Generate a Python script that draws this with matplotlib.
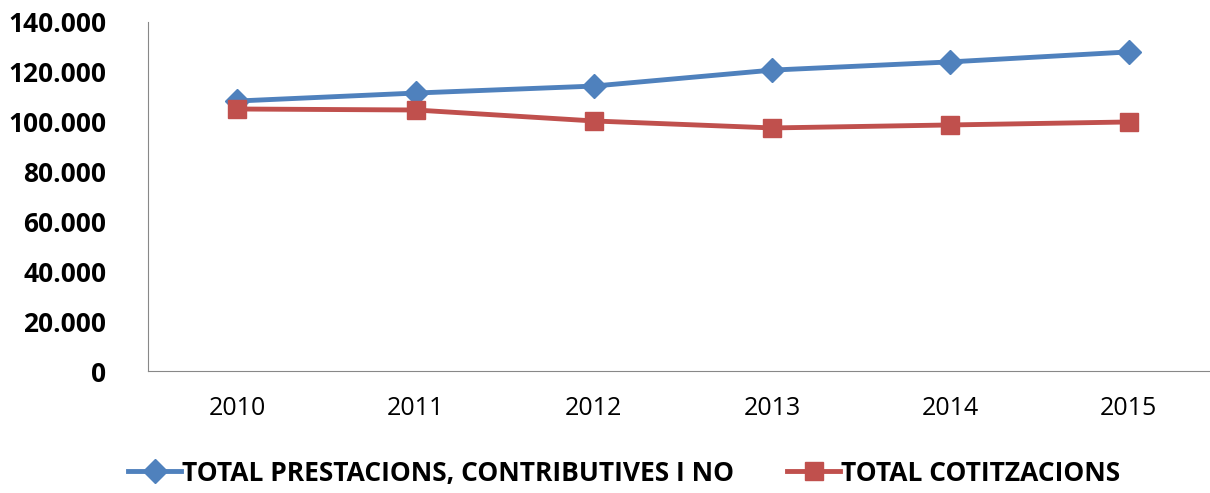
import matplotlib.pyplot as plt
from matplotlib.ticker import FuncFormatter

plt.rcParams['font.family'] = ['Open Sans', 'DejaVu Sans']

anys = ['2010', '2011', '2012', '2013', '2014', '2015']
prestacions = [108300, 111500, 114300, 120700, 124000, 128000]
cotitzacions = [105100, 104700, 100300, 97500, 98700, 99900]

fig = plt.figure(figsize=(12.1, 4.93), dpi=100)
ax = fig.add_axes([148 / 1210, 1 - 371 / 493, (1218 - 148) / 1210, (371 - 22) / 493])

x = range(len(anys))
ax.plot(x, prestacions, color='#4F81BD', lw=3.5, marker='D', ms=12,
        label='TOTAL PRESTACIONS, CONTRIBUTIVES I NO', clip_on=False)
ax.plot(x, cotitzacions, color='#C0504D', lw=3.5, marker='s', ms=13,
        label='TOTAL COTITZACIONS', clip_on=False)

ax.set_xlim(-0.5, 5.5)
ax.set_ylim(0, 140000)
ax.set_yticks(range(0, 140001, 20000))
ax.yaxis.set_major_formatter(FuncFormatter(lambda v, p: f'{int(v):,}'.replace(',', '.')))
ax.set_xticks(list(x))
ax.set_xticklabels(anys)
for s in ['top', 'right']:
    ax.spines[s].set_visible(False)
for s in ['left', 'bottom']:
    ax.spines[s].set_color('#888888')
ax.tick_params(axis='y', length=0, labelsize=19, pad=30)
ax.tick_params(axis='x', length=0, labelsize=18, pad=18)
for t in ax.get_yticklabels():
    t.set_fontweight('bold')

leg = fig.legend(loc='lower center', bbox_to_anchor=(0.516, -0.035), ncol=2, frameon=False,
                 prop={'weight': 'bold', 'size': 19}, handlelength=2.0, columnspacing=2.0,
                 handletextpad=0.05)

fig.savefig('out.png', dpi=100)
